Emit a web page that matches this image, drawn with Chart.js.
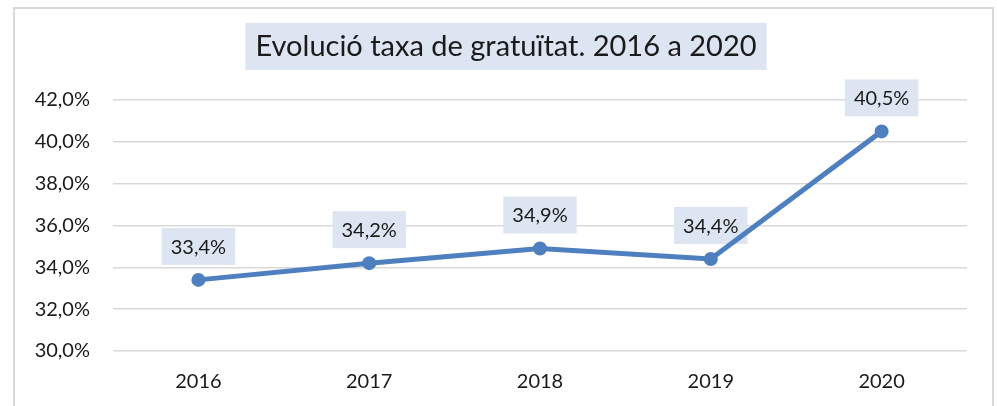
<!DOCTYPE html>
<html>
<head>
<meta charset="utf-8">
<script src="https://cdn.jsdelivr.net/npm/chart.js@4.4.1/dist/chart.umd.min.js"></script>
<style>
  html, body { margin: 0; padding: 0; background: #fff; }
  #wrap { position: relative; width: 997px; height: 406px; overflow: hidden; }
  #frame { position: absolute; left: 13px; top: 7px; width: 981px; height: 420px; border: 2px solid #d9d9d9; box-sizing: border-box; }
  canvas { position: absolute; left: 0; top: 0; }
</style>
</head>
<body>
<div id="wrap">
  <div id="frame"></div>
  <canvas id="chart" width="997" height="406"></canvas>
</div>
<script>
// dades
const titleText = "Evolució taxa de gratuïtat. 2016 a 2020";
const years = ["2016", "2017", "2018", "2019", "2020"];
const taxa = [33.4, 34.2, 34.9, 34.4, 40.5];

const blau = "#4e7fbf";
const fonsEtiqueta = "#dce5f1";
const fontFamily = "Lato, 'Open Sans', sans-serif";

function pct(v) {
  return v.toFixed(1).replace(".", ",") + "%";
}

// títol amb fons
const titlePlugin = {
  id: "titolFons",
  afterDraw(chart) {
    const ctx = chart.ctx;
    ctx.save();
    ctx.font = "29px " + fontFamily;
    const w = ctx.measureText(titleText).width;
    const cx = 506, cy = 47;
    ctx.fillStyle = fonsEtiqueta;
    ctx.fillRect(cx - w / 2 - 10, 23, w + 20, 47);
    ctx.fillStyle = "#1a1a1a";
    ctx.textAlign = "center";
    ctx.textBaseline = "middle";
    ctx.fillText(titleText, cx, cy);
    ctx.restore();
  }
};

// etiquetes de dades
const labelsPlugin = {
  id: "etiquetes",
  beforeDatasetsDraw(chart) {
    const ctx = chart.ctx;
    const meta = chart.getDatasetMeta(0);
    ctx.save();
    ctx.font = "20px " + fontFamily;
    ctx.textAlign = "center";
    ctx.textBaseline = "middle";
    meta.data.forEach((pt, i) => {
      const txt = pct(chart.data.datasets[0].data[i]);
      const w = ctx.measureText(txt).width + 18;
      const h = 37;
      const bottom = pt.y - 15;
      ctx.fillStyle = fonsEtiqueta;
      ctx.fillRect(pt.x - w / 2, bottom - h, w, h);
      ctx.fillStyle = "#1a1a1a";
      ctx.fillText(txt, pt.x, bottom - h / 2 + 1);
    });
    ctx.restore();
  }
};

new Chart(document.getElementById("chart"), {
  type: "line",
  data: {
    labels: years,
    datasets: [{
      data: taxa,
      borderColor: blau,
      backgroundColor: blau,
      borderWidth: 5,
      pointRadius: 7,
      pointHoverRadius: 7,
      pointBackgroundColor: blau,
      pointBorderWidth: 0,
      tension: 0,
      fill: false
    }]
  },
  options: {
    responsive: false,
    animation: false,
    events: [],
    layout: { padding: { top: 100, right: 30, left: 0, bottom: 0 } },
    plugins: {
      legend: { display: false },
      title: { display: false },
      tooltip: { enabled: false }
    },
    scales: {
      x: {
        offset: true,
        grid: { display: false, drawTicks: false },
        border: { display: false },
        ticks: { color: "#1a1a1a", font: { family: fontFamily, size: 20 }, padding: 19 },
        afterFit(scale) { scale.height = 55; }
      },
      y: {
        min: 30,
        max: 42,
        grid: { color: "#d9d9d9", lineWidth: 1.5, drawTicks: false, tickLength: 0 },
        border: { display: false },
        ticks: {
          stepSize: 2,
          color: "#1a1a1a",
          font: { family: fontFamily, size: 20 },
          padding: 23,
          callback: (v) => pct(v)
        },
        afterFit(scale) { scale.width = 113; }
      }
    }
  },
  plugins: [titlePlugin, labelsPlugin]
});
</script>
</body>
</html>
